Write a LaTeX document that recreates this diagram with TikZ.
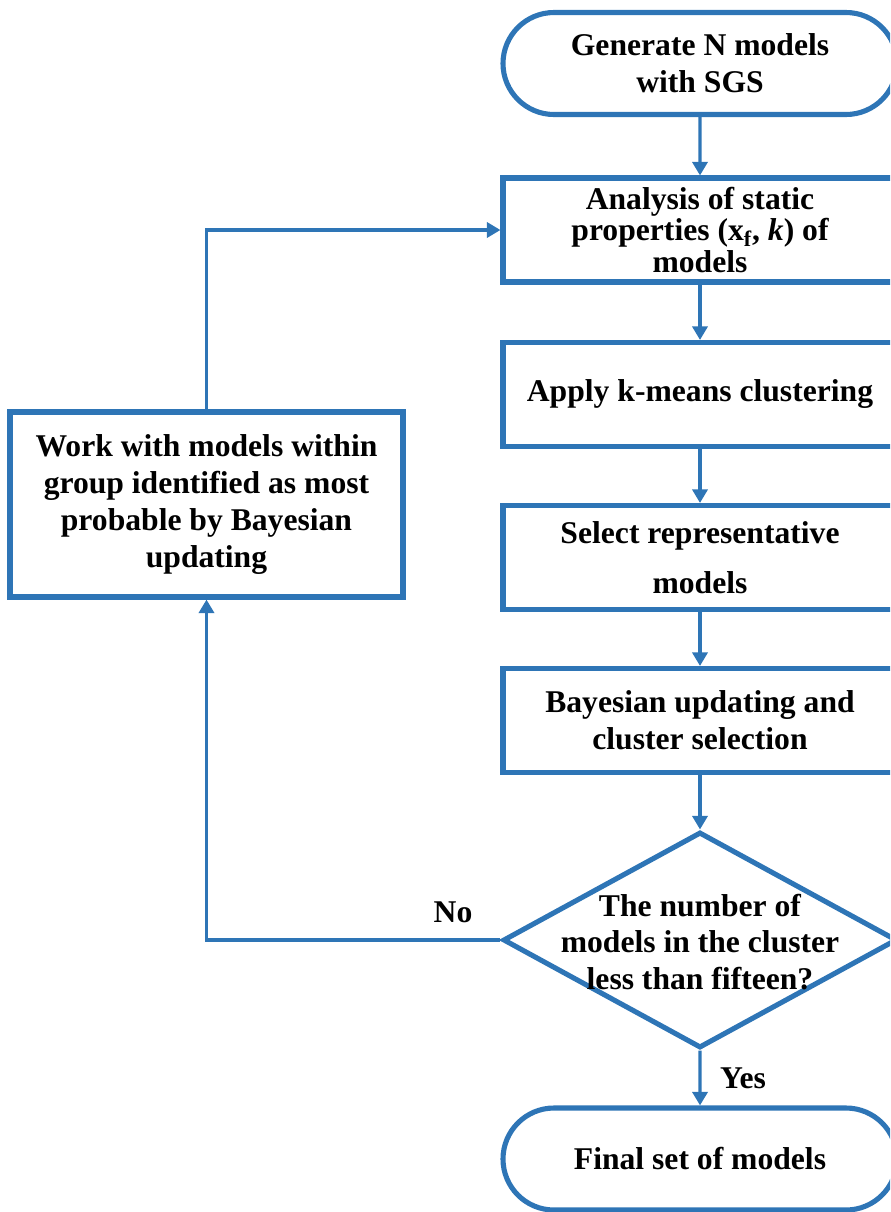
\documentclass[tikz,border=0pt]{standalone}
\usepackage{fontspec}
\setmainfont{Liberation Serif}
\usetikzlibrary{shapes.geometric,shapes.misc,arrows.meta}
\definecolor{flowblue}{RGB}{46,117,182}
\begin{document}
\begin{tikzpicture}[
        font=\bfseries\fontsize{18}{21}\selectfont
    ]
    \tikzset{
        myterm/.style = {rounded rectangle, draw=flowblue, line width=2.9pt, align=center,
                         minimum width=7.88cm, minimum height=2.04cm, inner sep=0pt},
        mybox/.style = {rectangle, draw=flowblue, line width=2.9pt, align=center,
                        minimum width=7.88cm, minimum height=2.08cm, inner sep=0pt},
        mydec/.style = {diamond, draw=flowblue, line width=2.9pt, aspect=1.824,
                        minimum width=7.88cm, minimum height=4.32cm, inner sep=0pt},
        mylabel/.style = {align=center, inner sep=0pt},
        myarrow/.style = {-{Triangle[width=0.3cm,length=0.27cm]}, line width=1.9pt, draw=flowblue},
    }
        \useasboundingbox (0,0) rectangle (17.8,-24.24);
        \clip (0,0) rectangle (17.8,-24.24);
        %
        \node[myterm] at (14.0,-1.27) (start) {Generate N models\\with SGS};
        \node[mybox] at (14.0,-4.60) (analysis) {Analysis of static\\[-0.1cm]properties (x\textsubscript{f}, \textit{k}) of\\[-0.1cm]models};
        \node[mybox] at (14.0,-7.89) (kmeans) {Apply k-means clustering};
        \node[mybox] at (14.0,-11.15) (select) {Select representative\\[0.26cm]models};
        \node[mybox] at (14.0,-14.41) (bayes) {Bayesian updating and\\cluster selection};
        \node[mydec] at (14.0,-18.80) (check) {};
        \node[mylabel] at (14.0,-18.84) (checktext) {The number of\\models in the cluster\\less than fifteen?};
        \node[myterm] at (14.0,-23.18) (final) {Final set of models};
        \node[mybox, minimum width=7.86cm, minimum height=3.7cm] at (4.13,-10.09) (work)
            {Work with models within\\group identified as most\\probable by Bayesian\\updating};
        %
        \node[mylabel] at (9.06,-18.24) (no) {No};
        \node[mylabel] at (14.86,-21.56) (yes) {Yes};
        %
        \draw[myarrow] (start) -- (analysis);
        \draw[myarrow] (analysis) -- (kmeans);
        \draw[myarrow] (kmeans) -- (select);
        \draw[myarrow] (select) -- (bayes);
        \draw[myarrow] (bayes) -- (check);
        \draw[myarrow] (check) -- (final);
        %
        \draw[myarrow] (check.west) -| (work.south);
        \draw[myarrow] (work.north) |- (analysis.west);
    \end{tikzpicture}
\end{document}
